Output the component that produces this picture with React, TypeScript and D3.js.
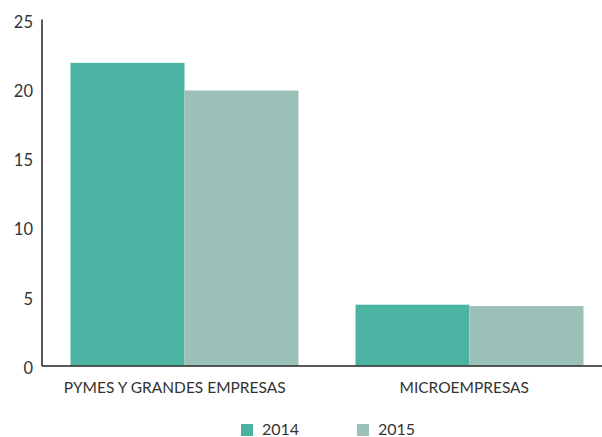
import React from "react";
import * as d3 from "d3";

const categories = ["PYMES Y GRANDES EMPRESAS", "MICROEMPRESAS"];
const seriesNames = ["2014", "2015"];
const values2014 = [21.9, 4.4];
const values2015 = [19.9, 4.3];
const yTicks = [0, 5, 10, 15, 20, 25];
const colors = ["#4AB3A2", "#9CC1B8"];

export default function App() {
  const W = 602, H = 437;
  const x0 = d3.scaleBand<string>().domain(categories).range([42, 612]).paddingInner(0.2).paddingOuter(0.1);
  const x1 = d3.scaleBand<string>().domain(seriesNames).range([0, x0.bandwidth()]);
  const xLabel = d3.scaleBand<string>().domain(categories).range([30, 609]).paddingInner(0.2).paddingOuter(0.1);
  const y = d3.scaleLinear().domain([0, 25]).range([365.5, 20]);
  const series = [values2014, values2015];
  const font = "Lato, 'Open Sans', sans-serif";
  return (
    <svg width={W} height={H} style={{ position: "absolute", left: 0, top: 0 }}>
      {categories.map((c, ci) =>
        seriesNames.map((s, si) => (
          <rect key={c + s} x={(x0(c) as number) + (x1(s) as number)} y={y(series[si][ci])}
            width={x1.bandwidth()} height={y(0) - y(series[si][ci])} fill={colors[si]} />
        ))
      )}
      <line x1={42} x2={42} y1={19.5} y2={366} stroke="#222" strokeWidth={1.5} />
      <line x1={42} x2={602} y1={366} y2={366} stroke="#222" strokeWidth={1.5} />
      {yTicks.map(t => (
        <text key={t} x={33} y={y(t) + 4} textAnchor="end" dominantBaseline="middle"
          fontFamily={font} fontSize={16.5} fill="#333">{t}</text>
      ))}
      {categories.map(c => (
        <text key={c} x={(xLabel(c) as number) + xLabel.bandwidth() / 2} y={389} textAnchor="middle"
          dominantBaseline="middle" fontFamily={font} fontSize={15.5} fill="#333">{c}</text>
      ))}
      {seriesNames.map((s, i) => (
        <g key={s} transform={`translate(${241 + i * 116},424)`}>
          <rect width={12} height={12} fill={colors[i]} />
          <text x={21} y={6.5} dominantBaseline="middle" fontFamily={font} fontSize={16} fill="#333">{s}</text>
        </g>
      ))}
    </svg>
  );
}
